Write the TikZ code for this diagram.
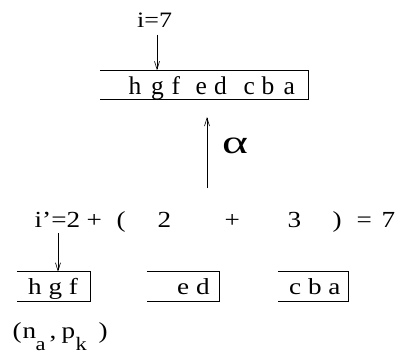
\documentclass[tikz,border=0pt]{standalone}
\usepackage{fontspec}
\setmainfont{Liberation Serif}[FakeStretch=1.18]
\newfontfamily\alphafont{Liberation Serif}
\newfontfamily\plainserif{Liberation Serif}
\usetikzlibrary{arrows.meta}
\newcommand\putat[2]{\rlap{\hspace*{#1pt}#2}}
\begin{document}
\begin{tikzpicture}[x=1pt,y=-1pt,
  lbl/.style={inner sep=0pt, anchor=base west, font=\fontsize{23}{26}\selectfont},
  bigtxt/.style={lbl, font=\plainserif\fontsize{25.5}{28}\selectfont},
  boxline/.style={line width=0.8pt},
  arr/.style={line width=0.6pt, -{Straight Barb[length=8pt,width=5pt]}},
  openbox/.style={draw=none, inner sep=0pt, minimum height=29pt}]
\useasboundingbox (0,0) rectangle (403,353);

% ---- top part
\node[lbl, font=\fontsize{22}{24}\selectfont] (i7) at (137,28) {i=7};
\node[openbox, minimum width=208pt] (tb) at (204,85) {};
\draw[boxline] (tb.north west) -- (tb.north east) -- (tb.south east) -- (tb.south west);
\node[bigtxt] (tt) at (128,94) {\putat{0}{h}\putat{22.5}{g}\putat{43}{f}\putat{67}{e}\putat{85.5}{d}\putat{115}{c}\putat{133}{b}\putat{155}{a}};
\coordinate (i7a) at (157,35);
\draw[arr] (i7a) -- (i7a |- tb.north);

% ---- alpha arrow
\coordinate (alo) at (207,188);
\coordinate (ahi) at (207,117);
\draw[arr] (alo) -- (ahi);
\node[inner sep=0pt, anchor=base west] (al) at (222,153) {\alphafont\fontsize{33}{35}\selectfont\scalebox{1.5}[1]{α}};

% ---- expression
\node[lbl] (ex) at (34,227) {\putat{0}{i’=2}\putat{52}{+}\putat{82}{(}\putat{123}{2}\putat{190}{+}\putat{253}{3}\putat{298}{)}\putat{322}{=}\putat{347}{7}};
\coordinate (ia) at (58,233);

% ---- bottom boxes
\node[openbox, minimum width=73pt] (b1) at (53.5,286.5) {};
\node[openbox, minimum width=72pt] (b2) at (183,286.5) {};
\node[openbox, minimum width=70pt] (b3) at (313,286.5) {};
\foreach \b in {b1,b2,b3}
  \draw[boxline] (\b.north west) -- (\b.north east) -- (\b.south east) -- (\b.south west);
\draw[arr] (ia) -- (ia |- b1.north);
\node[lbl] (t1) at (28,294) {h g f};
\node[lbl] (t2) at (177,294) {e d};
\node[lbl] (t3) at (289,294) {c b a};

% ---- (n_a , p_k )
\node[lbl] (np) at (12,338) {\putat{0}{(}\putat{10}{n}\putat{23}{\raisebox{-12pt}{\fontsize{19}{21}\selectfont a}}\putat{37}{,}\putat{49}{p}\putat{63}{\raisebox{-12pt}{\fontsize{19}{21}\selectfont k}}\putat{86}{)}};
\end{tikzpicture}
\end{document}
